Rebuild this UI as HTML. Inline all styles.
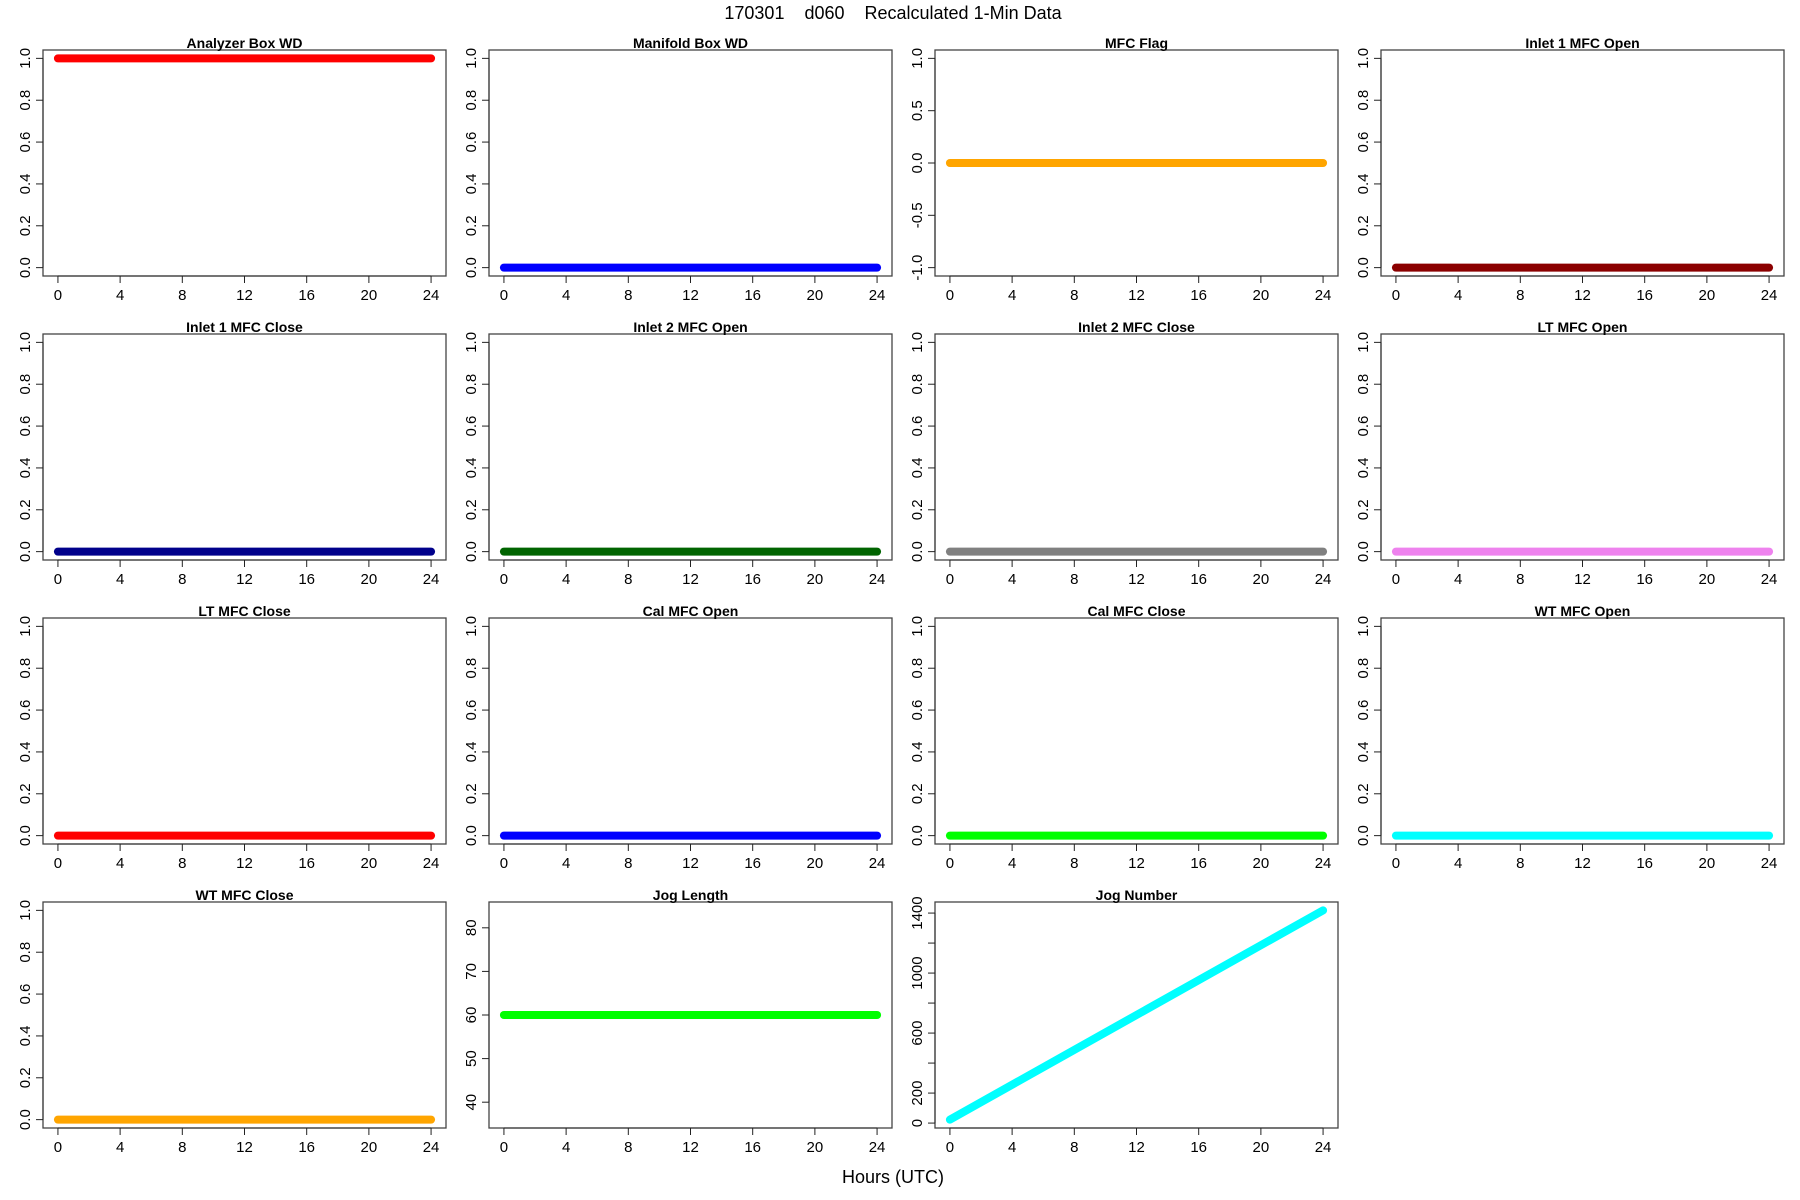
<!DOCTYPE html>
<html><head><meta charset="utf-8">
<style>
html,body{margin:0;padding:0;background:#fff;}
svg{display:block;font-family:"Liberation Sans",sans-serif;}
</style></head>
<body>
<svg id="fig" width="1800" height="1200" viewBox="0 0 1800 1200" xmlns="http://www.w3.org/2000/svg">
<text x="893" y="19" font-size="18" text-anchor="middle" xml:space="preserve">170301    d060    Recalculated 1-Min Data</text>
<text x="893" y="1183" font-size="18" text-anchor="middle">Hours (UTC)</text>
</svg>
<script>
const titles = ["Analyzer Box WD","Manifold Box WD","MFC Flag","Inlet 1 MFC Open","Inlet 1 MFC Close","Inlet 2 MFC Open","Inlet 2 MFC Close","LT MFC Open","LT MFC Close","Cal MFC Open","Cal MFC Close","WT MFC Open","WT MFC Close","Jog Length","Jog Number"];
const colors = ["#ff0000","#0000ff","#ffa500","#8b0000","#00008b","#006400","#808080","#ee82ee","#ff0000","#0000ff","#00ff00","#00ffff","#ffa500","#00ff00","#00ffff"];
const hours = [0, 24];
const startValues = [1,0,0,0,0,0,0,0,0,0,0,0,0,60,23];
const endValues   = [1,0,0,0,0,0,0,0,0,0,0,0,0,60,1418];
const yMins = [0,0,-1,0,0,0,0,0,0,0,0,0,0,36,23];
const yMaxs = [1,1,1,1,1,1,1,1,1,1,1,1,1,84,1418];
const unitTicks = [0,0.2,0.4,0.6,0.8,1];
const unitLabels = ["0.0","0.2","0.4","0.6","0.8","1.0"];
const yTickValues = [unitTicks,unitTicks,[-1,-0.5,0,0.5,1],unitTicks,unitTicks,unitTicks,unitTicks,unitTicks,unitTicks,unitTicks,unitTicks,unitTicks,unitTicks,[40,50,60,70,80],[0,200,400,600,800,1000,1200,1400]];
const yTickLabels = [unitLabels,unitLabels,["-1.0","-0.5","0.0","0.5","1.0"],unitLabels,unitLabels,unitLabels,unitLabels,unitLabels,unitLabels,unitLabels,unitLabels,unitLabels,unitLabels,["40","50","60","70","80"],["0","200","","600","","1000","","1400"]];
const xTickLabels = ["0","4","8","12","16","20","24"];

const NS="http://www.w3.org/2000/svg";
const svg=document.getElementById('fig');
function mk(tag,attrs,parent){const e=document.createElementNS(NS,tag);for(const k in attrs)e.setAttribute(k,attrs[k]);parent.appendChild(e);return e;}
const W=403,H=226;
titles.forEach((t,i)=>{
  const col=i%4,row=Math.floor(i/4);
  const L=43+col*446,T=50+row*284;
  const g=mk('g',{},svg);
  
  
  const xr=24*1.08,x0=-0.96;
  const sx=v=>L+(v-x0)/xr*W;
  const lo=yMins[i],hi=yMaxs[i],pad=(hi-lo)*0.04;
  const sy=v=>T+H-(v-(lo-pad))/((hi-lo)*1.08)*H;
  const box=mk('rect',{x:L,y:T,width:W,height:H,fill:'none',stroke:'#444','stroke-width':1.3},g);
  
  
  const tt=mk('text',{x:L+W/2,y:T-2,'font-size':14,'font-weight':'bold','text-anchor':'middle'},g);
  tt.textContent=t;
  
  
  const xa=mk('g',{},g);
  
  
  mk('line',{x1:sx(0),x2:sx(24),y1:T+H,y2:T+H,stroke:'#222','stroke-width':1},xa);
  xTickLabels.forEach(l=>{const v=+l;
    mk('line',{x1:sx(v),x2:sx(v),y1:T+H,y2:T+H+7,stroke:'#222','stroke-width':1},xa);
    const tx=mk('text',{x:sx(v),y:T+H+24,'font-size':15,'text-anchor':'middle'},xa);tx.textContent=l;
    
    
  });
  const ya=mk('g',{},g);
  
  
  const tv=yTickValues[i];
  mk('line',{x1:L,x2:L,y1:sy(tv[0]),y2:sy(tv[tv.length-1]),stroke:'#222','stroke-width':1},ya);
  tv.forEach((v,k)=>{
    mk('line',{x1:L-7,x2:L,y1:sy(v),y2:sy(v),stroke:'#222','stroke-width':1},ya);
    const l=yTickLabels[i][k];
    if(!l) return;
    const tx=mk('text',{x:L-13,y:sy(v),'font-size':15,'text-anchor':'middle',transform:`rotate(-90 ${L-13} ${sy(v)})`},ya);tx.textContent=l;
    
    
  });
  const vals=[startValues[i],endValues[i]];
  const pts=hours.map((h,k)=>sx(h)+','+sy(vals[k])).join(' ');
  const ln=mk('polyline',{points:pts,fill:'none',stroke:colors[i],'stroke-width':8,'stroke-linecap':'round'},g);
  
  
});
</script>
</body></html>
